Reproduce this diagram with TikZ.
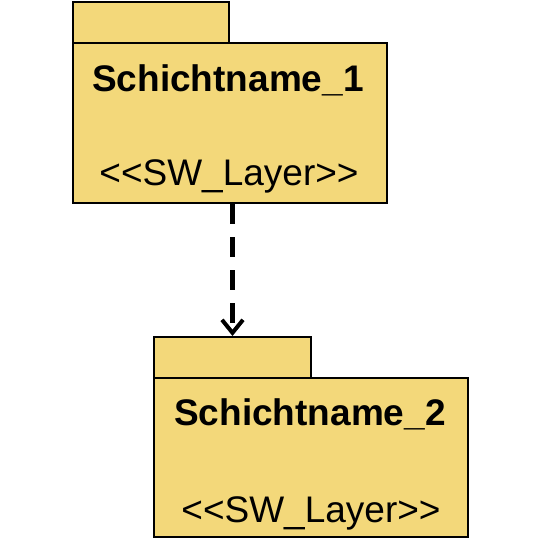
\documentclass[tikz,border=0pt]{standalone}
\usepackage{fontspec}
\setmainfont{Liberation Sans}
\usetikzlibrary{arrows.meta}
\definecolor{pkgfill}{RGB}{243,216,122}
\tikzstyle{pkg} = [rectangle, fill=pkgfill, draw=black, line width=2pt, inner sep=0pt]
\tikzstyle{pkgname} = [anchor=base, inner sep=0pt, font=\fontsize{37}{40}\selectfont\bfseries]
\tikzstyle{stereo} = [anchor=base, inner sep=0pt, font=\fontsize{37}{40}\selectfont]
\tikzstyle{dep} = [line width=4.5pt, dash pattern=on 20pt off 13pt, -{Straight Barb[length=13pt,width=21pt,line width=4pt]}]

\begin{document}
\begin{tikzpicture}[x=1pt, y=-1pt]
    \useasboundingbox (0,0) rectangle (540,540);
    % Nodes
    \node[pkg, minimum width=156pt, minimum height=41pt] (tab1) at (151,22.5) {};
    \node[pkg, minimum width=314pt, minimum height=160pt] (body1) at (230,123) {};
    \node[pkgname] (name1) at (228,92) {Schichtname\_1};
    \node[stereo] (st1) at (229,185) {<{}<SW\_Layer>{}>};
    \node[pkg, minimum width=157pt, minimum height=41pt] (tab2) at (232.5,357.5) {};
    \node[pkg, minimum width=314pt, minimum height=159pt] (body2) at (311,457.5) {};
    \node[pkgname] (name2) at (310,425) {Schichtname\_2};
    \node[stereo] (st2) at (311,522) {<{}<SW\_Layer>{}>};
    % Edges
    \draw[dep] (tab2.north |- body1.south) -- (tab2.north);
\end{tikzpicture}
\end{document}
